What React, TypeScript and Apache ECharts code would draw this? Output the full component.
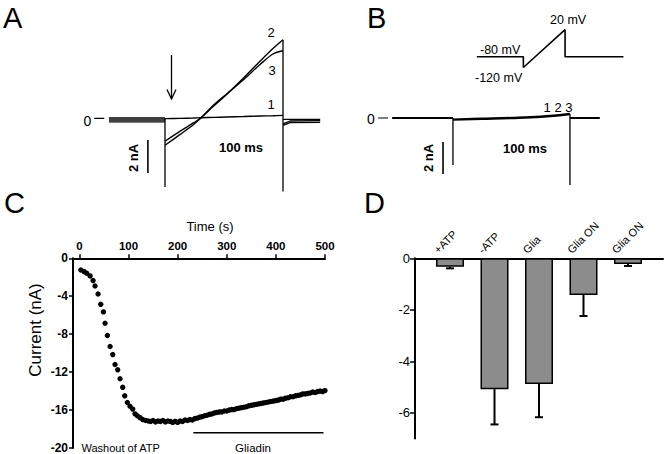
import React, { useEffect, useRef } from "react";
import * as echarts from "echarts";

// ---------- Panel A (time in ms, current in nA) ----------
const aPulseTime = [0, 25, 48, 62, 82, 104, 133, 161, 183, 200];
const aTrace1 = [0.02, 0.04, 0.06, 0.08, 0.1, 0.12, 0.15, 0.18, 0.2, 0.22];
const aTrace2 = [-1.35, -0.75, -0.24, 0.1, 0.77, 1.47, 2.48, 3.5, 4.27, 4.8];
const aTrace3 = [-1.59, -0.95, -0.35, 0.1, 0.83, 1.5, 2.38, 3.3, 3.94, 4.14];
const aPreTime = [-95, 0];
const aPreLevels = [0.06, -0.06, -0.18];
const aPostTime = [200, 212, 263];
const aPostLevels = [
  [-0.02, -0.02, -0.02],
  [-0.3, -0.12, -0.1],
  [-0.38, -0.22, -0.2],
];
const aOnStep = [0.06, -4.12];
const aOffStep = [4.8, -4.4];
const aScaleBarT = -29;
const aScaleBar = [-1.27, -3.27];
const aZeroDash = [-120, -103];

// ---------- Panel B ----------
const bPreTime = [-104, 0];
const bPulseTime = [0, 50, 100, 150, 200];
const bTrace = [-0.1, -0.05, 0.0, 0.08, 0.25];
const bOnStep = [0, -2.94];
const bOffStep = [0.25, -4.19];
const bPostTime = [200, 251];
const bScaleBarT = -17;
const bScaleBar = [-1.5, -3.5];
const bZeroDash = [-128, -111];
const protoTime = [-223, 0, 0, 200, 200, 480];
const protoMv = [-80, -80, -120, 20, -80, -80];

// ---------- Panel C ----------
const cTime = [
  3, 9.6, 15, 21.8, 27.9, 31.9, 38, 43.5, 48.9, 52.3, 57, 62.5, 67.9, 72.6, 78, 82.8, 88.2, 92.3, 97.7, 103,
  108.6, 113.3, 118, 123.5, 129, 135,
  140, 145, 150, 155, 160, 165, 170, 175, 180, 185, 190, 195, 200, 205, 210, 215, 220, 225, 230, 235,
  240, 245, 250, 255, 260, 265, 270, 275, 280, 285, 290, 295, 300, 305, 310, 315, 320, 325, 330, 335,
  340, 345, 350, 355, 360, 365, 370, 375, 380, 385, 390, 395, 400, 405, 410, 415, 420, 425, 430, 435,
  440, 445, 450, 455, 460, 465, 470, 475, 480, 485, 490, 495, 500,
];
const cCurrent = [
  -1.23, -1.41, -1.58, -1.86, -2.35, -2.92, -3.76, -4.85, -5.65, -6.85, -8.14, -9.3, -10.15, -11.2, -11.76,
  -12.7, -13.6, -14.5, -15.2, -15.6, -15.9, -16.4, -16.6, -16.8, -17.0, -17.1,
  -17.15, -17.2, -17.1, -17.25, -17.15, -17.2, -17.1, -17.25, -17.15, -17.2, -17.3, -17.2, -17.3, -17.15,
  -17.2, -17.05, -17.1, -17.0, -17.05, -16.9,
  -16.85, -16.75, -16.7, -16.6, -16.55, -16.45, -16.4, -16.3, -16.25, -16.2, -16.2, -16.1, -16.1, -16.0,
  -15.95, -15.95, -15.85, -15.8, -15.75, -15.7,
  -15.65, -15.55, -15.5, -15.45, -15.4, -15.35, -15.3, -15.25, -15.2, -15.15, -15.1, -15.05, -15.0, -14.95,
  -14.85, -14.85, -14.75, -14.7, -14.6, -14.6,
  -14.5, -14.45, -14.4, -14.3, -14.3, -14.25, -14.2, -14.1, -14.15, -14.05, -14.0, -14.05, -13.95,
];
const cXTicks = [0, 100, 200, 300, 400, 500];
const gliadinSpan = [232, 497];
const gliadinLevel = -18.4;

// ---------- Panel D ----------
const dLabels = ["+ATP", "-ATP", "Glia", "Glia ON", "Glia ON"];
const dMeans = [-0.33, -5.08, -4.88, -1.42, -0.22];
const dErrLow = [-0.39, -6.45, -6.17, -2.24, -0.3];
const dYTicks = [0, -2, -4, -6];
const dLabelShift = 0.32;

const FONT = "Liberation Sans, Arial, Helvetica, sans-serif";

const zip = (xs: number[], ys: number[]) => xs.map((x, i) => [x, ys[i]]);
const flat = (xs: number[], y: number) => xs.map((x) => [x, y]);
const vert = (x: number, ys: number[]) => ys.map((y) => [x, y]);

const ln = (grid: number, data: number[][], width = 1.3, smooth: boolean | number = false) => ({
  type: "line",
  xAxisIndex: grid,
  yAxisIndex: grid,
  data,
  symbol: "none",
  smooth,
  silent: true,
  lineStyle: { color: "#000", width },
  z: 3,
});

const txt = (
  x: number,
  y: number,
  text: string,
  fontSize: number,
  opts: { align?: string; weight?: string; rotation?: number } = {}
) => ({
  type: "text",
  x,
  y,
  rotation: opts.rotation || 0,
  style: {
    text,
    fontSize,
    fontFamily: FONT,
    fontWeight: opts.weight || "normal",
    fill: "#000",
    align: opts.align || "center",
    verticalAlign: "middle",
  },
  z: 10,
});

function buildOption() {
  const hiddenX = (grid: number, min: number, max: number) => ({ gridIndex: grid, type: "value", min, max, show: false });
  const hiddenY = hiddenX;

  const series: any[] = [];
  // Panel A
  const aPulses = [aTrace1, aTrace2, aTrace3];
  aPulses.forEach((tr, k) => {
    series.push(ln(0, flat(aPreTime, aPreLevels[k]), 1.3));
    series.push(ln(0, zip(aPulseTime, tr), 1.4, 0.35));
    series.push(ln(0, zip(aPostTime, aPostLevels[k]), 1.3));
  });
  series.push(ln(0, vert(0, aOnStep), 1.3));
  series.push(ln(0, vert(200, aOffStep), 1.3));
  series.push(ln(0, vert(aScaleBarT, aScaleBar), 1.6));
  series.push(ln(0, flat(aZeroDash, 0.04), 1.2));

  // Panel B
  series.push(ln(1, flat(bPreTime, 0), 2));
  series.push(ln(1, zip(bPulseTime, bTrace), 2.4, 0.4));
  series.push(ln(1, flat(bPostTime, 0), 2));
  series.push(ln(1, vert(0, bOnStep), 1.3));
  series.push(ln(1, vert(200, bOffStep), 1.3));
  series.push(ln(1, vert(bScaleBarT, bScaleBar), 1.6));
  series.push(ln(1, flat(bZeroDash, 0), 1.2));
  series.push(ln(2, zip(protoTime, protoMv), 1.6));

  // Panel C
  series.push({
    type: "scatter",
    xAxisIndex: 3,
    yAxisIndex: 3,
    data: zip(cTime, cCurrent),
    symbol: "circle",
    symbolSize: 5.4,
    itemStyle: { color: "#000", opacity: 1 },
    silent: true,
    z: 3,
  });
  series.push(ln(3, flat(gliadinSpan, gliadinLevel), 1.5));

  // Panel D
  series.push({
    type: "bar",
    xAxisIndex: 4,
    yAxisIndex: 4,
    data: dMeans.map((m, i) => [i, m]),
    barWidth: 28,
    itemStyle: { color: "#8c8c8c", borderColor: "#000", borderWidth: 1.5 },
    silent: true,
    z: 3,
  });
  series.push({
    type: "custom",
    xAxisIndex: 4,
    yAxisIndex: 4,
    data: dMeans.map((m, i) => [i, m, dErrLow[i]]),
    encode: { x: 0, y: [1, 2] },
    silent: true,
    z: 2,
    renderItem: (_params: any, api: any) => {
      const x = api.value(0);
      const p1 = api.coord([x, api.value(1)]);
      const p2 = api.coord([x, api.value(2)]);
      return {
        type: "group",
        children: [
          { type: "line", shape: { x1: p1[0], y1: p1[1], x2: p2[0], y2: p2[1] }, style: { stroke: "#000", lineWidth: 2 } },
          { type: "line", shape: { x1: p2[0] - 4, y1: p2[1], x2: p2[0] + 4, y2: p2[1] }, style: { stroke: "#000", lineWidth: 2 } },
        ],
      };
    },
  });

  const axisLine = { show: true, onZero: false, lineStyle: { color: "#000", width: 2 } };

  return {
    animation: false,
    backgroundColor: "#ffffff",
    textStyle: { fontFamily: FONT },
    grid: [
      { left: 88.3, top: 20, width: 236, height: 181.5 },
      { left: 374, top: 22, width: 236.9, height: 176 },
      { left: 473.3, top: 27, width: 158.5, height: 43.2 },
      { left: 73, top: 258.3, width: 252, height: 190 },
      { left: 415, top: 258.3, width: 248, height: 180.3 },
    ],
    xAxis: [
      hiddenX(0, -130, 270),
      hiddenX(1, -135, 270),
      hiddenX(2, -240, 520),
      {
        gridIndex: 3,
        type: "value",
        position: "top",
        min: -13,
        max: 500,
        axisLine,
        axisTick: { show: true, length: 4, customValues: cXTicks, lineStyle: { color: "#000", width: 1.5 } },
        axisLabel: {
          customValues: cXTicks,
          color: "#000",
          fontSize: 11.5,
          fontWeight: "bold",
          fontFamily: FONT,
          margin: 6,
        },
        splitLine: { show: false },
      },
      {
        gridIndex: 4,
        type: "value",
        position: "top",
        min: -0.787,
        max: 4.787,
        axisLine,
        axisTick: { show: false },
        axisLabel: {
          customValues: dLabels.map((_, i) => i - dLabelShift),
          formatter: (v: number) => dLabels[Math.round(v + dLabelShift)] ?? "",
          rotate: -45,
          color: "#000",
          fontSize: 11,
          fontFamily: FONT,
          margin: 7,
        },
        splitLine: { show: false },
      },
    ],
    yAxis: [
      hiddenY(0, -5, 6),
      hiddenY(1, -5, 6),
      hiddenY(2, -130, 30),
      {
        gridIndex: 3,
        type: "value",
        min: -20,
        max: 0,
        interval: 4,
        axisLine,
        axisTick: { show: true, length: 4, lineStyle: { color: "#000", width: 1.5 } },
        axisLabel: { color: "#000", fontSize: 12, fontWeight: "bold", fontFamily: FONT, margin: 5 },
        splitLine: { show: false },
      },
      {
        gridIndex: 4,
        type: "value",
        min: -7,
        max: 0,
        axisLine,
        axisTick: { show: true, length: 5, customValues: dYTicks, lineStyle: { color: "#000", width: 1.5 } },
        axisLabel: { customValues: dYTicks, color: "#000", fontSize: 13, fontFamily: FONT, margin: 5 },
        splitLine: { show: false },
      },
    ],
    series,
    graphic: [
      txt(3, 17.5, "A", 29, { align: "left" }),
      txt(367, 17.5, "B", 29, { align: "left" }),
      txt(4, 203, "C", 29, { align: "left" }),
      txt(364, 202.5, "D", 29, { align: "left" }),
      // Panel A texts
      txt(87.5, 120.5, "0", 14),
      txt(271, 32, "2", 13),
      txt(272, 70, "3", 13),
      txt(271, 104, "1", 13),
      txt(241, 147, "100 ms", 13, { weight: "bold" }),
      txt(133, 158, "2 nA", 13, { weight: "bold", rotation: Math.PI / 2 }),
      { type: "line", shape: { x1: 171.5, y1: 55, x2: 171.5, y2: 99 }, style: { stroke: "#000", lineWidth: 1.3 }, z: 10 },
      {
        type: "polyline",
        shape: { points: [[167, 89.5], [171.5, 99], [176, 89.5]] },
        style: { stroke: "#000", lineWidth: 1.3, fill: null },
        z: 10,
      },
      // Panel B texts
      txt(371, 118.5, "0", 14),
      txt(558, 107, "1 2 3", 13),
      txt(525, 148, "100 ms", 13, { weight: "bold" }),
      txt(428, 158, "2 nA", 13, { weight: "bold", rotation: Math.PI / 2 }),
      txt(480, 50, "-80 mV", 12.5, { align: "left" }),
      txt(475, 78, "-120 mV", 12.5, { align: "left" }),
      txt(550, 20, "20 mV", 12.5, { align: "left" }),
      // Panel C texts
      txt(210, 226.5, "Time (s)", 13),
      txt(35, 330, "Current (nA)", 17, { rotation: Math.PI / 2 }),
      txt(81.5, 448, "Washout of ATP", 11, { align: "left" }),
      txt(253, 448, "Gliadin", 11.5),
    ],
  };
}

export default function App() {
  const ref = useRef<HTMLDivElement>(null);
  useEffect(() => {
    if (!ref.current) return;
    const chart = echarts.init(ref.current, null, { renderer: "svg" });
    chart.setOption(buildOption() as any);
    return () => chart.dispose();
  }, []);
  return (
    <div
      ref={ref}
      style={{ position: "absolute", left: 0, top: 0, width: 667, height: 454, background: "#fff" }}
    />
  );
}
